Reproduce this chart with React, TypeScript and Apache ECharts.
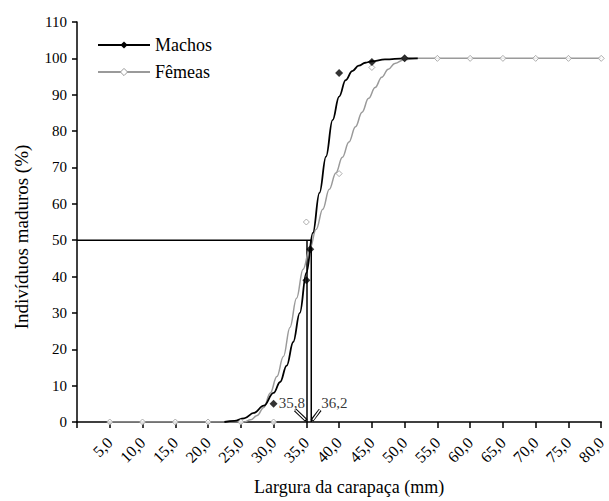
import React, { useEffect, useRef } from "react";
import * as echarts from "echarts";

// Fitted curves: [carapace width, % mature]
const machosCurveX = [22.5, 24, 25.5, 27, 28.5, 30, 31, 32, 33, 34, 35, 36, 37, 38, 39, 40, 41, 42, 43, 44, 45, 47, 50, 52];
const machosCurveY = [0, 0.3, 1, 2.5, 4.5, 8, 11, 15.5, 22, 30, 41, 52, 63, 73, 83, 89.5, 94, 96.5, 98, 98.8, 99.2, 99.7, 100, 100];
const femeasCurveX = [5, 25.5, 26.5, 27.5, 28.5, 29.5, 30.5, 31.5, 32.5, 33.5, 34.5, 35.5, 36.5, 37.5, 38.5, 39.5, 40.5, 41.5, 42.5, 43.5, 44.5, 45.5, 46.5, 47.5, 48.5, 50, 52, 80];
const femeasCurveY = [0, 0, 0.6, 1.8, 4, 8, 12.5, 18, 26, 34, 42, 47.5, 53, 58.5, 64, 68.5, 72.8, 77, 81.2, 85.2, 89, 92, 94.8, 97, 98.6, 99.7, 100, 100];

// Observed points
const machosX = [30, 35.0, 35.6, 40, 45, 50];
const machosY = [5, 39, 47.5, 96, 99, 100];
const femeasX = [5, 10, 15, 20, 25, 30, 35, 40, 45, 50, 55, 60, 65, 70, 75, 80];
const femeasY = [0, 0, 0, 0, 0, 0, 55, 68.3, 97.5, 100, 100, 100, 100, 100, 100, 100];

// L50 annotation (positions; labels as printed)
const l50Lines = [35.1, 35.75];
const l50Labels = ["35,8", "36,2"];
const l50Level = 50;

const zip = (xs: number[], ys: number[]) => xs.map((x, i) => [x, ys[i]]);

const FONT = "Liberation Serif";
const GRAY = "#9a9a9a";

export default function App() {
  const ref = useRef<HTMLDivElement>(null);
  useEffect(() => {
    if (!ref.current) return;
    const chart = echarts.init(ref.current, undefined, { renderer: "svg" });
    const blackLine = { color: "#000", width: 1.5 };
    chart.setOption({
      animation: false,
      backgroundColor: "#fff",
      textStyle: { fontFamily: FONT, color: "#000" },
      grid: { left: 77, right: 7, top: 22, bottom: 73, containLabel: false },
      legend: {
        left: 92,
        top: 31,
        orient: "vertical",
        itemWidth: 52,
        itemHeight: 9,
        itemGap: 9,
        textStyle: { fontFamily: FONT, fontSize: 18, color: "#000" },
        data: [
          { name: "Machos", itemStyle: { color: "#000" } },
          { name: "Fêmeas", itemStyle: { color: "#fff", borderColor: GRAY, borderWidth: 1 } },
        ],
      },
      xAxis: {
        type: "value",
        min: 0,
        max: 80,
        interval: 5,
        name: "Largura da carapaça (mm)",
        nameLocation: "middle",
        nameGap: 56,
        nameTextStyle: { fontFamily: FONT, fontSize: 18, color: "#000", padding: [0, 0, 0, 20] },
        axisLine: { lineStyle: { color: "#000", width: 1.5 } },
        axisTick: { length: 6, lineStyle: { color: "#000", width: 1.5 } },
        axisLabel: {
          rotate: 45,
          margin: 18,
          fontFamily: FONT,
          fontSize: 16,
          color: "#000",
          formatter: (v: number) => (v === 0 ? "" : v.toFixed(1).replace(".", ",")),
        },
        splitLine: { show: false },
      },
      yAxis: {
        type: "value",
        min: 0,
        max: 110,
        interval: 10,
        name: "Indivíduos maduros (%)",
        nameLocation: "middle",
        nameGap: 46,
        nameTextStyle: { fontFamily: FONT, fontSize: 19, color: "#000", padding: [0, 30, 0, 0] },
        axisLine: { show: true, lineStyle: { color: "#000", width: 1.5 } },
        axisTick: { show: true, length: 5, lineStyle: { color: "#000", width: 1.5 } },
        axisLabel: { fontFamily: FONT, fontSize: 15, color: "#000", margin: 10 },
        splitLine: { show: false },
      },
      series: [
        {
          name: "Fêmeas",
          type: "line",
          data: zip(femeasCurveX, femeasCurveY),
          smooth: 0.4,
          smoothMonotone: "x",
          showSymbol: false,
          symbol: "diamond",
          color: GRAY,
          lineStyle: { color: GRAY, width: 1.5 },
          z: 3,
        },
        {
          name: "Machos",
          type: "line",
          data: zip(machosCurveX, machosCurveY),
          smooth: 0.4,
          smoothMonotone: "x",
          showSymbol: false,
          symbol: "diamond",
          color: "#000",
          lineStyle: { color: "#000", width: 1.8 },
          z: 4,
        },
        {
          type: "scatter",
          data: zip(femeasX, femeasY),
          symbol: "diamond",
          symbolSize: 6,
          itemStyle: { color: "#fff", borderColor: GRAY, borderWidth: 1 },
          z: 5,
        },
        {
          type: "scatter",
          data: zip(machosX, machosY),
          symbol: "diamond",
          symbolSize: 8,
          itemStyle: { color: "#000" },
          z: 6,
        },
        {
          type: "line",
          data: [[0, l50Level], [l50Lines[1], l50Level]],
          showSymbol: false,
          lineStyle: blackLine,
          z: 2,
        },
        ...l50Lines.map((x) => ({
          type: "line",
          data: [[x, 0], [x, l50Level]],
          showSymbol: false,
          lineStyle: blackLine,
          z: 2,
        })),
        {
          type: "line",
          data: [[33.3, 3.3], [l50Lines[0] - 0.1, 0.4]],
          showSymbol: false,
          lineStyle: { color: "#000", width: 3.5 },
          z: 7,
        },
        {
          type: "line",
          data: [[33.35, 3.25], [l50Lines[0] - 0.25, 0.6]],
          showSymbol: false,
          lineStyle: { color: "#fff", width: 1.5 },
          z: 8,
        },
        {
          type: "line",
          data: [[37.1, 3.3], [l50Lines[1] + 0.1, 0.4]],
          showSymbol: false,
          lineStyle: { color: "#000", width: 3.5 },
          z: 7,
        },
        {
          type: "line",
          data: [[37.05, 3.25], [l50Lines[1] + 0.25, 0.6]],
          showSymbol: false,
          lineStyle: { color: "#fff", width: 1.5 },
          z: 8,
        },
        {
          type: "scatter",
          symbolSize: 0,
          data: [
            { value: [l50Lines[0], 5.3], label: { show: true, position: "left", distance: 2, formatter: l50Labels[0] } },
            { value: [l50Lines[1], 5.3], label: { show: true, position: "right", distance: 10, formatter: l50Labels[1] } },
          ],
          label: { fontFamily: FONT, fontSize: 15, color: "#000" },
          z: 9,
        },
      ],
    });
    return () => chart.dispose();
  }, []);
  return (
    <div
      ref={ref}
      style={{ position: "absolute", left: 0, top: 0, width: 609, height: 501 }}
    />
  );
}
